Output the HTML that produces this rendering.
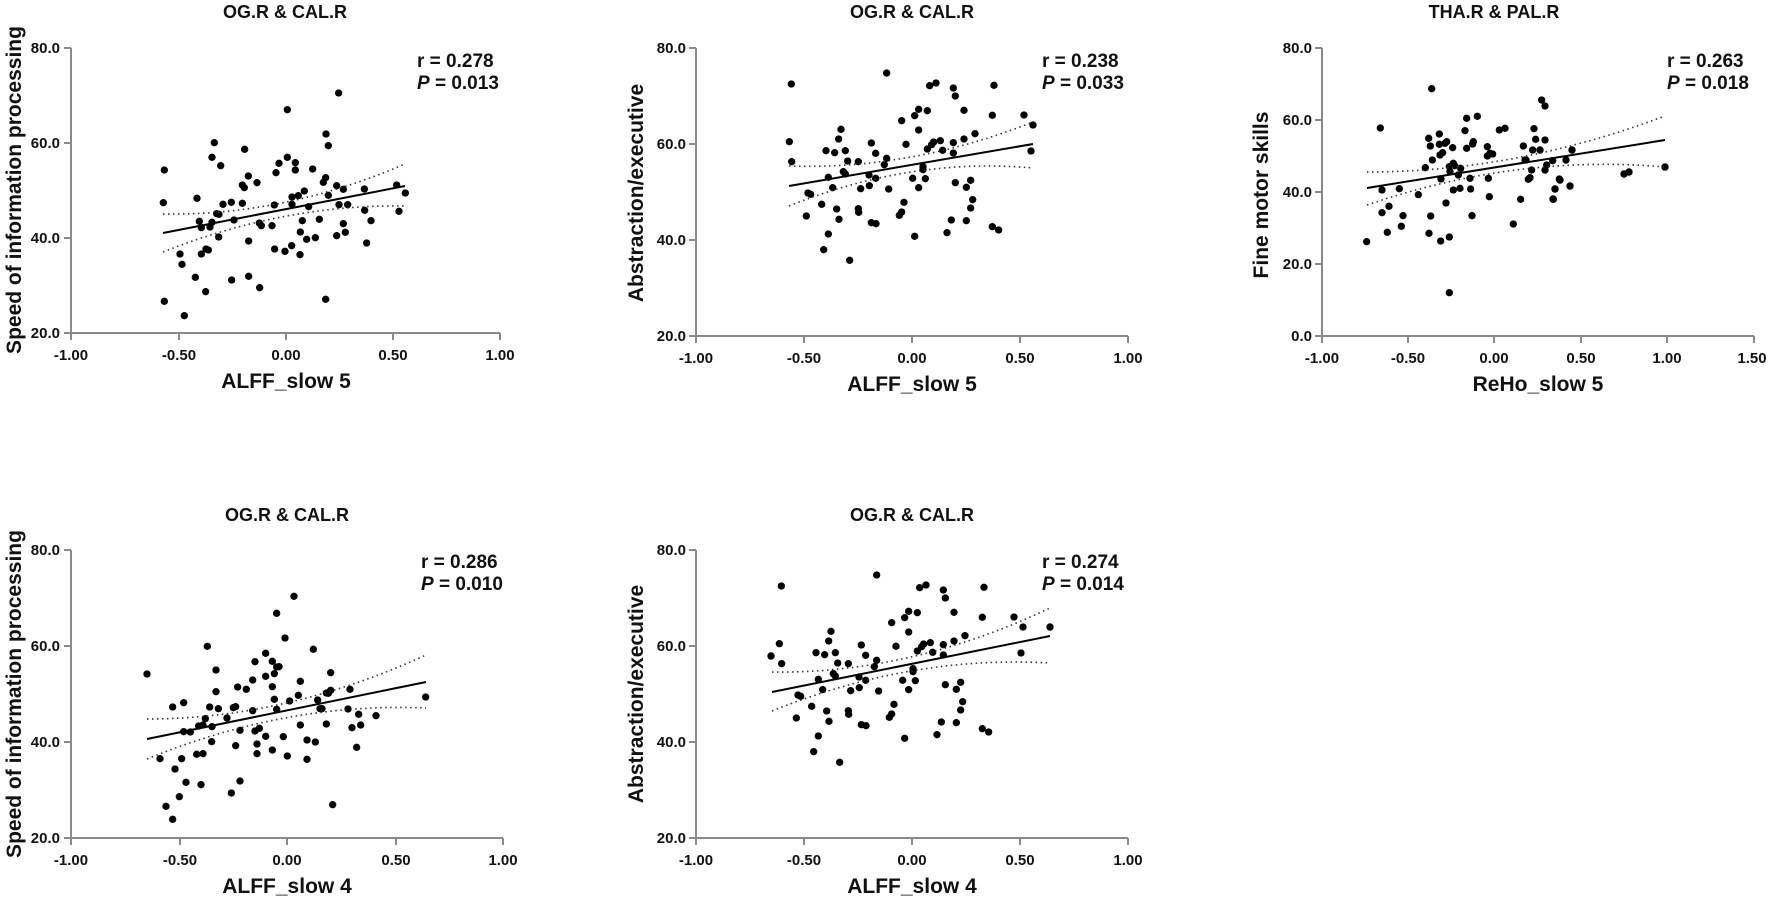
<!DOCTYPE html>
<html><head><meta charset="utf-8"><style>
html,body{margin:0;padding:0;background:#fff}
svg{display:block}
text{font-family:"Liberation Sans",Arial,sans-serif;font-weight:bold;fill:#111}
.t{font-size:18px;text-anchor:middle}
.xl{font-size:21px;text-anchor:middle}
.yl{font-size:21px;text-anchor:middle}
.tk{font-size:15px}
.r{font-size:19px}
.ax{stroke:#8a8a8a;stroke-width:2;fill:none}
.fit{stroke:#000;stroke-width:2;fill:none}
.ci{stroke:#333;stroke-width:1.6;fill:none;stroke-dasharray:1.5 3.5}
</style></head><body>
<svg width="1772" height="898" viewBox="0 0 1772 898" xmlns="http://www.w3.org/2000/svg">
<defs>
<g id="d1">
<circle cx="490" cy="608" r="11"/><circle cx="493" cy="510" r="11"/><circle cx="540" cy="762" r="11"/><circle cx="546" cy="793" r="11"/><circle cx="586" cy="832" r="11"/><circle cx="591" cy="595" r="11"/><circle cx="598" cy="664" r="11"/><circle cx="604" cy="683" r="11"/><circle cx="604" cy="762" r="11"/><circle cx="617" cy="875" r="11"/><circle cx="618" cy="747" r="11"/><circle cx="625" cy="750" r="11"/><circle cx="630" cy="681" r="11"/><circle cx="636" cy="667" r="11"/><circle cx="636" cy="472" r="11"/><circle cx="643" cy="428" r="11"/><circle cx="650" cy="641" r="11"/><circle cx="657" cy="643" r="11"/><circle cx="656" cy="711" r="11"/><circle cx="662" cy="497" r="11"/><circle cx="669" cy="613" r="11"/><circle cx="694" cy="607" r="11"/><circle cx="695" cy="840" r="11"/><circle cx="702" cy="660" r="11"/><circle cx="727" cy="610" r="11"/><circle cx="727" cy="555" r="11"/><circle cx="733" cy="563" r="11"/><circle cx="734" cy="448" r="11"/><circle cx="745" cy="528" r="11"/><circle cx="746" cy="723" r="11"/><circle cx="746" cy="829" r="11"/><circle cx="771" cy="548" r="11"/><circle cx="778" cy="669" r="11"/><circle cx="779" cy="863" r="11"/><circle cx="784" cy="677" r="11"/><circle cx="816" cy="677" r="11"/><circle cx="823" cy="615" r="11"/><circle cx="824" cy="747" r="11"/><circle cx="828" cy="518" r="11"/><circle cx="837" cy="490" r="11"/><circle cx="855" cy="754" r="11"/><circle cx="862" cy="329" r="11"/><circle cx="862" cy="472" r="11"/><circle cx="875" cy="737" r="11"/><circle cx="876" cy="591" r="11"/><circle cx="876" cy="613" r="11"/><circle cx="886" cy="488" r="11"/><circle cx="886" cy="510" r="11"/><circle cx="895" cy="587" r="11"/><circle cx="900" cy="764" r="11"/><circle cx="901" cy="696" r="11"/><circle cx="907" cy="662" r="11"/><circle cx="913" cy="573" r="11"/><circle cx="920" cy="718" r="11"/><circle cx="926" cy="620" r="11"/><circle cx="938" cy="507" r="11"/><circle cx="946" cy="713" r="11"/><circle cx="958" cy="658" r="11"/><circle cx="970" cy="547" r="11"/><circle cx="977" cy="533" r="11"/><circle cx="977" cy="898" r="11"/><circle cx="978" cy="402" r="11"/><circle cx="985" cy="437" r="11"/><circle cx="985" cy="586" r="11"/><circle cx="1010" cy="557" r="11"/><circle cx="1010" cy="707" r="11"/><circle cx="1016" cy="279" r="11"/><circle cx="1017" cy="614" r="11"/><circle cx="1030" cy="568" r="11"/><circle cx="1030" cy="671" r="11"/><circle cx="1036" cy="697" r="11"/><circle cx="1043" cy="614" r="11"/><circle cx="1093" cy="567" r="11"/><circle cx="1094" cy="631" r="11"/><circle cx="1100" cy="729" r="11"/><circle cx="1113" cy="662" r="11"/><circle cx="1190" cy="555" r="11"/><circle cx="1197" cy="634" r="11"/><circle cx="1216" cy="579" r="11"/><circle cx="493" cy="904" r="11"/><circle cx="553" cy="947" r="11"/>
</g>
<g id="d2">
<circle cx="748" cy="425" r="11"/><circle cx="754" cy="252" r="11"/><circle cx="755" cy="485" r="11"/><circle cx="799" cy="648" r="11"/><circle cx="804" cy="579" r="11"/><circle cx="812" cy="583" r="11"/><circle cx="845" cy="613" r="11"/><circle cx="851" cy="749" r="11"/><circle cx="858" cy="452" r="11"/><circle cx="865" cy="532" r="11"/><circle cx="865" cy="702" r="11"/><circle cx="878" cy="563" r="11"/><circle cx="884" cy="458" r="11"/><circle cx="890" cy="627" r="11"/><circle cx="896" cy="417" r="11"/><circle cx="897" cy="658" r="11"/><circle cx="903" cy="388" r="11"/><circle cx="910" cy="515" r="11"/><circle cx="916" cy="452" r="11"/><circle cx="916" cy="522" r="11"/><circle cx="923" cy="483" r="11"/><circle cx="929" cy="781" r="11"/><circle cx="955" cy="485" r="11"/><circle cx="955" cy="626" r="11"/><circle cx="956" cy="637" r="11"/><circle cx="962" cy="566" r="11"/><circle cx="987" cy="525" r="11"/><circle cx="988" cy="557" r="11"/><circle cx="994" cy="429" r="11"/><circle cx="994" cy="668" r="11"/><circle cx="1007" cy="460" r="11"/><circle cx="1007" cy="535" r="11"/><circle cx="1008" cy="671" r="11"/><circle cx="1033" cy="494" r="11"/><circle cx="1040" cy="219" r="11"/><circle cx="1040" cy="475" r="11"/><circle cx="1046" cy="567" r="11"/><circle cx="1078" cy="646" r="11"/><circle cx="1085" cy="362" r="11"/><circle cx="1085" cy="636" r="11"/><circle cx="1092" cy="607" r="11"/><circle cx="1098" cy="433" r="11"/><circle cx="1118" cy="535" r="11"/><circle cx="1124" cy="347" r="11"/><circle cx="1124" cy="709" r="11"/><circle cx="1136" cy="328" r="11"/><circle cx="1136" cy="390" r="11"/><circle cx="1136" cy="563" r="11"/><circle cx="1149" cy="500" r="11"/><circle cx="1149" cy="509" r="11"/><circle cx="1156" cy="536" r="11"/><circle cx="1162" cy="332" r="11"/><circle cx="1162" cy="447" r="11"/><circle cx="1169" cy="257" r="11"/><circle cx="1175" cy="434" r="11"/><circle cx="1181" cy="426" r="11"/><circle cx="1188" cy="249" r="11"/><circle cx="1201" cy="422" r="11"/><circle cx="1208" cy="451" r="11"/><circle cx="1240" cy="264" r="11"/><circle cx="1240" cy="428" r="11"/><circle cx="1240" cy="459" r="11"/><circle cx="1234" cy="660" r="11"/><circle cx="1221" cy="698" r="11"/><circle cx="1246" cy="288" r="11"/><circle cx="1246" cy="548" r="11"/><circle cx="1272" cy="331" r="11"/><circle cx="1272" cy="417" r="11"/><circle cx="1279" cy="562" r="11"/><circle cx="1279" cy="662" r="11"/><circle cx="1292" cy="541" r="11"/><circle cx="1292" cy="624" r="11"/><circle cx="1298" cy="599" r="11"/><circle cx="1305" cy="401" r="11"/><circle cx="1357" cy="680" r="11"/><circle cx="1357" cy="346" r="11"/><circle cx="1362" cy="256" r="11"/><circle cx="1376" cy="690" r="11"/>
<circle cx="1452" cy="345" r="11"/><circle cx="1473" cy="453" r="11"/><circle cx="1479" cy="375" r="11"/>
</g>
</defs>

<!-- Panel 1 -->
<text class="t" x="285" y="18">OG.R &amp; CAL.R</text>
<path class="ax" d="M71,48 V333 H500 M64,48 H71 M64,143 H71 M64,238 H71 M64,333 H71 M71,333 V340 M179,333 V340 M286,333 V340 M393,333 V340 M500,333 V340"/>
<g class="tk" text-anchor="end"><text x="60" y="53">80.0</text><text x="60" y="148">60.0</text><text x="60" y="243">40.0</text><text x="60" y="338">20.0</text></g>
<g class="tk" text-anchor="middle"><text x="71" y="360">-1.00</text><text x="179" y="360">-0.50</text><text x="286" y="360">0.00</text><text x="393" y="360">0.50</text><text x="500" y="360">1.00</text></g>
<text class="xl" x="286" y="388">ALFF_slow 5</text>
<text class="yl" transform="translate(21,190) rotate(-90)">Speed of information processing</text>
<text class="r" x="417" y="67">r = 0.278</text><text class="r" x="417" y="89"><tspan font-style="italic">P</tspan> = 0.013</text>
<g transform="scale(0.33333)"><use href="#d1"/></g>
<path class="fit" d="M163,233 L405,186"/>
<path class="ci" d="M163,214 Q284,216 405,164"/>
<path class="ci" d="M163,252 Q284,204 405,206"/>

<!-- Panel 2 -->
<text class="t" x="912" y="18">OG.R &amp; CAL.R</text>
<path class="ax" d="M696,48 V336 H1128 M689,48 H696 M689,144 H696 M689,240 H696 M689,336 H696 M696,336 V343 M804,336 V343 M912,336 V343 M1020,336 V343 M1128,336 V343"/>
<g class="tk" text-anchor="end"><text x="686" y="53">80.0</text><text x="686" y="149">60.0</text><text x="686" y="245">40.0</text><text x="686" y="341">20.0</text></g>
<g class="tk" text-anchor="middle"><text x="696" y="363">-1.00</text><text x="804" y="363">-0.50</text><text x="912" y="363">0.00</text><text x="1020" y="363">0.50</text><text x="1128" y="363">1.00</text></g>
<text class="xl" x="912" y="391">ALFF_slow 5</text>
<text class="yl" transform="translate(643,193) rotate(-90)">Abstraction/executive</text>
<text class="r" x="1042" y="67">r = 0.238</text><text class="r" x="1042" y="89"><tspan font-style="italic">P</tspan> = 0.033</text>
<g transform="translate(540,0) scale(0.33333)"><use href="#d2"/></g>
<path class="fit" d="M789,186 L1033,144"/>
<path class="ci" d="M789,166 Q911,170 1033,122"/>
<path class="ci" d="M789,206 Q911,157 1033,168"/>

<!-- Panel 3 -->
<text class="t" x="1494" y="18">THA.R &amp; PAL.R</text>
<path class="ax" d="M1322,48 V336 H1754 M1315,48 H1322 M1315,120 H1322 M1315,192 H1322 M1315,264 H1322 M1315,336 H1322 M1322,336 V343 M1408,336 V343 M1494,336 V343 M1581,336 V343 M1667,336 V343 M1754,336 V343"/>
<g class="tk" text-anchor="end"><text x="1312" y="53">80.0</text><text x="1312" y="125">60.0</text><text x="1312" y="197">40.0</text><text x="1312" y="269">20.0</text><text x="1312" y="341">0.0</text></g>
<g class="tk" text-anchor="middle"><text x="1322" y="363">-1.00</text><text x="1408" y="363">-0.50</text><text x="1494" y="363">0.00</text><text x="1581" y="363">0.50</text><text x="1667" y="363">1.00</text><text x="1752" y="363">1.50</text></g>
<text class="xl" x="1538" y="391">ReHo_slow 5</text>
<text class="yl" transform="translate(1268,195) rotate(-90)">Fine motor skills</text>
<text class="r" x="1667" y="67">r = 0.263</text><text class="r" x="1667" y="89"><tspan font-style="italic">P</tspan> = 0.018</text>
<g transform="translate(1100,0) scale(0.33333)">
<circle cx="800" cy="725" r="11"/><circle cx="841" cy="384" r="11"/><circle cx="846" cy="570" r="11"/><circle cx="846" cy="638" r="11"/><circle cx="862" cy="697" r="11"/><circle cx="867" cy="619" r="11"/><circle cx="898" cy="566" r="11"/><circle cx="904" cy="679" r="11"/><circle cx="909" cy="647" r="11"/><circle cx="955" cy="584" r="11"/><circle cx="976" cy="503" r="11"/><circle cx="986" cy="415" r="11"/><circle cx="987" cy="700" r="11"/><circle cx="991" cy="438" r="11"/><circle cx="992" cy="648" r="11"/><circle cx="995" cy="266" r="11"/><circle cx="997" cy="480" r="11"/><circle cx="1018" cy="402" r="11"/><circle cx="1018" cy="433" r="11"/><circle cx="1020" cy="465" r="11"/><circle cx="1022" cy="723" r="11"/><circle cx="1023" cy="537" r="11"/><circle cx="1028" cy="458" r="11"/><circle cx="1035" cy="430" r="11"/><circle cx="1038" cy="609" r="11"/><circle cx="1040" cy="425" r="11"/><circle cx="1048" cy="711" r="11"/><circle cx="1048" cy="878" r="11"/><circle cx="1048" cy="500" r="11"/><circle cx="1050" cy="515" r="11"/><circle cx="1058" cy="443" r="11"/><circle cx="1060" cy="490" r="11"/><circle cx="1060" cy="570" r="11"/><circle cx="1064" cy="497" r="11"/><circle cx="1075" cy="525" r="11"/><circle cx="1080" cy="565" r="11"/><circle cx="1082" cy="505" r="11"/><circle cx="1095" cy="392" r="11"/><circle cx="1100" cy="355" r="11"/><circle cx="1100" cy="445" r="11"/><circle cx="1110" cy="535" r="11"/><circle cx="1112" cy="567" r="11"/><circle cx="1116" cy="647" r="11"/><circle cx="1118" cy="432" r="11"/><circle cx="1120" cy="425" r="11"/><circle cx="1132" cy="349" r="11"/><circle cx="1162" cy="440" r="11"/><circle cx="1162" cy="468" r="11"/><circle cx="1165" cy="535" r="11"/><circle cx="1168" cy="590" r="11"/><circle cx="1170" cy="460" r="11"/><circle cx="1178" cy="462" r="11"/><circle cx="1198" cy="390" r="11"/><circle cx="1215" cy="385" r="11"/><circle cx="1240" cy="672" r="11"/><circle cx="1262" cy="598" r="11"/><circle cx="1270" cy="438" r="11"/><circle cx="1275" cy="480" r="11"/><circle cx="1278" cy="480" r="11"/><circle cx="1285" cy="538" r="11"/><circle cx="1290" cy="533" r="11"/><circle cx="1295" cy="510" r="11"/><circle cx="1298" cy="450" r="11"/><circle cx="1302" cy="386" r="11"/><circle cx="1307" cy="418" r="11"/><circle cx="1325" cy="300" r="11"/><circle cx="1335" cy="318" r="11"/><circle cx="1335" cy="420" r="11"/><circle cx="1340" cy="495" r="11"/><circle cx="1358" cy="482" r="11"/><circle cx="1360" cy="598" r="11"/><circle cx="1365" cy="567" r="11"/><circle cx="1378" cy="537" r="11"/>
</g>
<g><circle cx="1553" cy="199" r="3.7"/><circle cx="1555" cy="189" r="3.7"/><circle cx="1570" cy="186" r="3.7"/><circle cx="1560" cy="180" r="3.7"/><circle cx="1566" cy="160" r="3.7"/><circle cx="1572" cy="150" r="3.7"/><circle cx="1624" cy="174" r="3.7"/><circle cx="1629" cy="172" r="3.7"/><circle cx="1665" cy="167" r="3.7"/><circle cx="1545" cy="170" r="3.7"/><circle cx="1540" cy="150" r="3.7"/></g>
<path class="fit" d="M1367,188 L1665,140"/>
<path class="ci" d="M1367,172 Q1516,172 1665,116"/>
<path class="ci" d="M1367,205 Q1516,154 1665,167"/>

<!-- Panel 4 -->
<text class="t" x="287" y="521">OG.R &amp; CAL.R</text>
<path class="ax" d="M71,550 V838 H503 M64,550 H71 M64,646 H71 M64,742 H71 M64,838 H71 M71,838 V845 M180,838 V845 M287,838 V845 M396,838 V845 M503,838 V845"/>
<g class="tk" text-anchor="end"><text x="60" y="555">80.0</text><text x="60" y="651">60.0</text><text x="60" y="747">40.0</text><text x="60" y="843">20.0</text></g>
<g class="tk" text-anchor="middle"><text x="71" y="865">-1.00</text><text x="180" y="865">-0.50</text><text x="287" y="865">0.00</text><text x="396" y="865">0.50</text><text x="503" y="865">1.00</text></g>
<text class="xl" x="287" y="893">ALFF_slow 4</text>
<text class="yl" transform="translate(21,694) rotate(-90)">Speed of information processing</text>
<text class="r" x="421" y="568">r = 0.286</text><text class="r" x="421" y="590"><tspan font-style="italic">P</tspan> = 0.010</text>
<g transform="translate(0,440) scale(0.33333)">
<circle cx="441" cy="702" r="11"/><circle cx="480" cy="956" r="11"/><circle cx="498" cy="1099" r="11"/><circle cx="518" cy="801" r="11"/><circle cx="518" cy="1138" r="11"/><circle cx="525" cy="987" r="11"/><circle cx="538" cy="1070" r="11"/><circle cx="545" cy="956" r="11"/><circle cx="551" cy="788" r="11"/><circle cx="551" cy="875" r="11"/><circle cx="558" cy="1027" r="11"/><circle cx="571" cy="876" r="11"/><circle cx="590" cy="943" r="11"/><circle cx="596" cy="858" r="11"/><circle cx="603" cy="1034" r="11"/><circle cx="609" cy="941" r="11"/><circle cx="609" cy="855" r="11"/><circle cx="616" cy="836" r="11"/><circle cx="622" cy="619" r="11"/><circle cx="629" cy="801" r="11"/><circle cx="635" cy="905" r="11"/><circle cx="636" cy="860" r="11"/><circle cx="648" cy="690" r="11"/><circle cx="648" cy="755" r="11"/><circle cx="655" cy="806" r="11"/><circle cx="681" cy="834" r="11"/><circle cx="694" cy="1059" r="11"/><circle cx="700" cy="803" r="11"/><circle cx="707" cy="800" r="11"/><circle cx="707" cy="917" r="11"/><circle cx="713" cy="741" r="11"/><circle cx="720" cy="871" r="11"/><circle cx="720" cy="1023" r="11"/><circle cx="739" cy="748" r="11"/><circle cx="758" cy="720" r="11"/><circle cx="758" cy="812" r="11"/><circle cx="765" cy="665" r="11"/><circle cx="765" cy="873" r="11"/><circle cx="771" cy="912" r="11"/><circle cx="771" cy="941" r="11"/><circle cx="778" cy="865" r="11"/><circle cx="797" cy="640" r="11"/><circle cx="797" cy="889" r="11"/><circle cx="797" cy="709" r="11"/><circle cx="817" cy="664" r="11"/><circle cx="817" cy="740" r="11"/><circle cx="817" cy="930" r="11"/><circle cx="823" cy="701" r="11"/><circle cx="823" cy="778" r="11"/><circle cx="830" cy="808" r="11"/><circle cx="830" cy="520" r="11"/><circle cx="830" cy="681" r="11"/><circle cx="837" cy="680" r="11"/><circle cx="850" cy="890" r="11"/><circle cx="855" cy="594" r="11"/><circle cx="862" cy="948" r="11"/><circle cx="869" cy="783" r="11"/><circle cx="882" cy="469" r="11"/><circle cx="895" cy="766" r="11"/><circle cx="901" cy="724" r="11"/><circle cx="901" cy="855" r="11"/><circle cx="921" cy="900" r="11"/><circle cx="921" cy="958" r="11"/><circle cx="940" cy="628" r="11"/><circle cx="946" cy="906" r="11"/><circle cx="953" cy="780" r="11"/><circle cx="960" cy="806" r="11"/><circle cx="966" cy="806" r="11"/><circle cx="979" cy="852" r="11"/><circle cx="979" cy="759" r="11"/><circle cx="985" cy="760" r="11"/><circle cx="992" cy="698" r="11"/><circle cx="992" cy="751" r="11"/><circle cx="998" cy="1094" r="11"/><circle cx="1044" cy="807" r="11"/><circle cx="1050" cy="748" r="11"/><circle cx="1056" cy="863" r="11"/><circle cx="1070" cy="922" r="11"/><circle cx="1076" cy="823" r="11"/><circle cx="1082" cy="855" r="11"/><circle cx="1128" cy="827" r="11"/><circle cx="1277" cy="771" r="11"/>
</g>
<path class="fit" d="M147,739 L426,682"/>
<path class="ci" d="M147,719 Q286,719 426,655"/>
<path class="ci" d="M147,759 Q286,702 426,708"/>

<!-- Panel 5 -->
<text class="t" x="912" y="521">OG.R &amp; CAL.R</text>
<path class="ax" d="M696,550 V838 H1128 M689,550 H696 M689,646 H696 M689,742 H696 M689,838 H696 M696,838 V845 M804,838 V845 M912,838 V845 M1020,838 V845 M1128,838 V845"/>
<g class="tk" text-anchor="end"><text x="686" y="555">80.0</text><text x="686" y="651">60.0</text><text x="686" y="747">40.0</text><text x="686" y="843">20.0</text></g>
<g class="tk" text-anchor="middle"><text x="696" y="865">-1.00</text><text x="804" y="865">-0.50</text><text x="912" y="865">0.00</text><text x="1020" y="865">0.50</text><text x="1128" y="865">1.00</text></g>
<text class="xl" x="912" y="893">ALFF_slow 4</text>
<text class="yl" transform="translate(643,694) rotate(-90)">Abstraction/executive</text>
<text class="r" x="1042" y="568">r = 0.274</text><text class="r" x="1042" y="590"><tspan font-style="italic">P</tspan> = 0.014</text>
<g transform="translate(530,502) scale(0.33333)"><use href="#d2"/></g>
<circle cx="1050" cy="627" r="3.7"/><circle cx="771" cy="656" r="3.7"/>
<path class="fit" d="M772,692 L1050,636"/>
<path class="ci" d="M772,672 Q911,674 1050,608"/>
<path class="ci" d="M772,711 Q911,655 1050,663"/>
</svg>
</body></html>
